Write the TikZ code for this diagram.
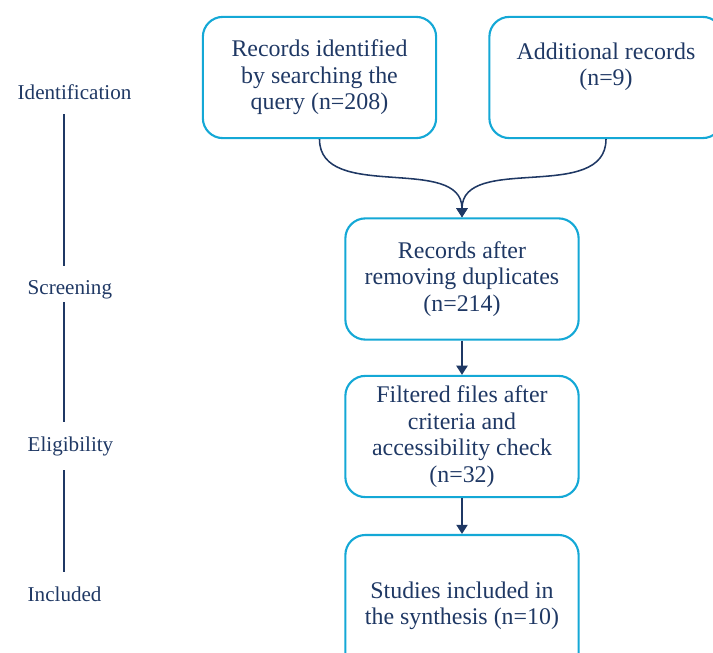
\documentclass[tikz,border=0pt]{standalone}
\usepackage{fontspec}
\setmainfont{Liberation Serif}
\usetikzlibrary{arrows.meta}

\definecolor{navy}{RGB}{31,56,100}
\definecolor{boxcyan}{RGB}{20,168,214}

\tikzset{
  recbox/.style={draw=boxcyan, line width=1.5pt, rounded corners=0.5cm, text=navy,
    align=center, minimum width=5.83cm, minimum height=3.03cm, inner sep=2pt,
    font=\fontsize{17}{18.8}\selectfont},
  stagelabel/.style={text=navy, inner sep=0pt, anchor=base west,
    font=\fontsize{15}{17}\selectfont},
  stageline/.style={navy, line width=1.3pt, shorten <=0.33cm, shorten >=0.36cm},
  flow/.style={navy, line width=1.1pt, -{Triangle[width=8pt,length=6.5pt]}}
}

\begin{document}
\begin{tikzpicture}[x=0.025cm, y=0.025cm, line width=1pt]
\useasboundingbox (0,0) rectangle (713,653);
% stage labels on the left
\coordinate (axis) at (64,0) ;
\node[stagelabel] (ident) at (17,553) {Identification};
\node[stagelabel] (screen) at (27,358) {Screening};
\node[stagelabel] (elig) at (27,201) {Eligibility};
\node[stagelabel] (incl) at (27,51) {Included};
\draw[stageline] (ident.south -| axis) -- (screen.north -| axis);
\draw[stageline, shorten <=0.05cm] (screen.south -| axis) -- (elig.north -| axis);
\draw[stageline] (elig.south -| axis) -- (incl.north -| axis);
%% boxes Identification
\node[recbox] (query) at (319.5,575.5) {Records identified\\by searching the\\query (n=208)};
\node[recbox] (extra) at (606,575.5) {Additional records\\(n=9)\\\mbox{}};
%% box Screening
\node[recbox] (dedup) at (462,374) {Records after\\removing duplicates\\(n=214)};
%% box Eligibility
\node[recbox] (filtered) at (462,216.5) {Filtered files after\\criteria and\\accessibility check\\(n=32)};
%% box Included
\node[recbox, minimum height=3.55cm] (studies) at (462,47) {Studies included in\\the synthesis (n=10)};
% arrows
\draw[flow] (query.south) to[out=-90, in=90] (dedup.north);
\draw[flow] (extra.south) to[out=-90, in=90] (dedup.north);
\draw[flow] (dedup) -- (filtered);
\draw[flow] (filtered) -- (studies);
\end{tikzpicture}
\end{document}
